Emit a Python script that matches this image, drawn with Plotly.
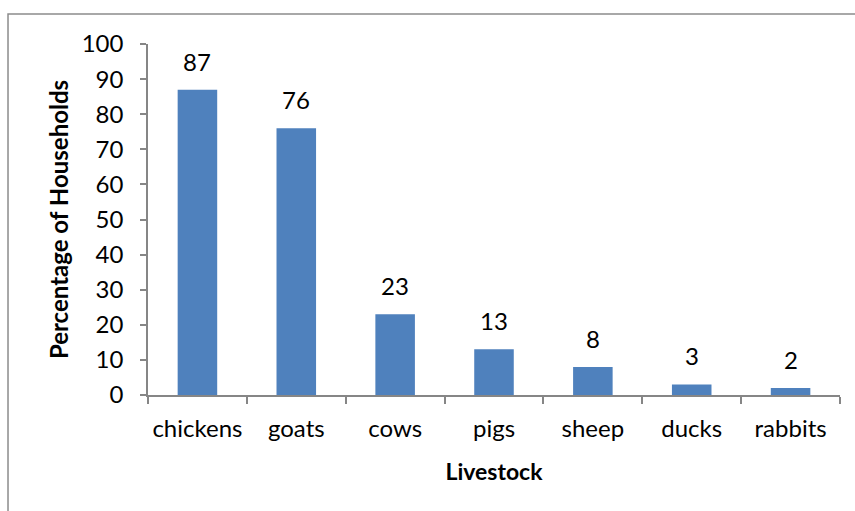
import plotly.graph_objects as go

# Livestock ownership survey
categories = ["chickens", "goats", "cows", "pigs", "sheep", "ducks", "rabbits"]
percentages = [87, 76, 23, 13, 8, 3, 2]
y_ticks = [0, 10, 20, 30, 40, 50, 60, 70, 80, 90, 100]

FONT = "Lato"
AXIS_GRAY = "#868686"

fig = go.Figure(
    go.Bar(
        x=categories,
        y=percentages,
        marker=dict(color="#4F81BD", line=dict(width=0)),
        width=0.4,
    )
)

# value labels above each bar
for cat, val in zip(categories, percentages):
    fig.add_annotation(
        x=cat, y=val, text=str(val), showarrow=False,
        yanchor="bottom", yshift=12,
        font=dict(family=FONT, size=24, color="#000000"),
    )

# chart outer border
fig.add_shape(
    type="rect", xref="paper", yref="paper",
    x0=-0.2023, x1=1.2, y0=-0.6, y1=1.0855,
    line=dict(color="#8c8c8c", width=1.5),
)

fig.update_layout(
    width=855, height=511,
    margin=dict(l=148, r=15, t=44, b=116),
    paper_bgcolor="white", plot_bgcolor="white",
    showlegend=False,
    font=dict(family=FONT, size=24, color="#000000"),
    bargap=0.6,
)

fig.update_xaxes(
    automargin=False, tickangle=0,
    showline=True, linecolor=AXIS_GRAY, linewidth=1.5,
    ticks="outside", ticklen=7, tickcolor=AXIS_GRAY, tickwidth=1.5,
    tickson="boundaries", ticklabelstandoff=11,
    tickfont=dict(family=FONT, size=24),
    title=dict(text="<b>Livestock</b>", font=dict(family=FONT, size=23), standoff=23),
    showgrid=False,
)
fig.update_yaxes(
    automargin=False,
    range=[0, 100], tickvals=y_ticks,
    showline=True, linecolor=AXIS_GRAY, linewidth=1.5,
    ticks="outside", ticklen=6, tickcolor=AXIS_GRAY, tickwidth=1.5,
    ticklabelstandoff=12,
    tickfont=dict(family=FONT, size=24),
    title=dict(text="<b>Percentage of Households</b>", font=dict(family=FONT, size=24), standoff=6),
    showgrid=False, zeroline=False,
)

fig.write_html("out.html")
